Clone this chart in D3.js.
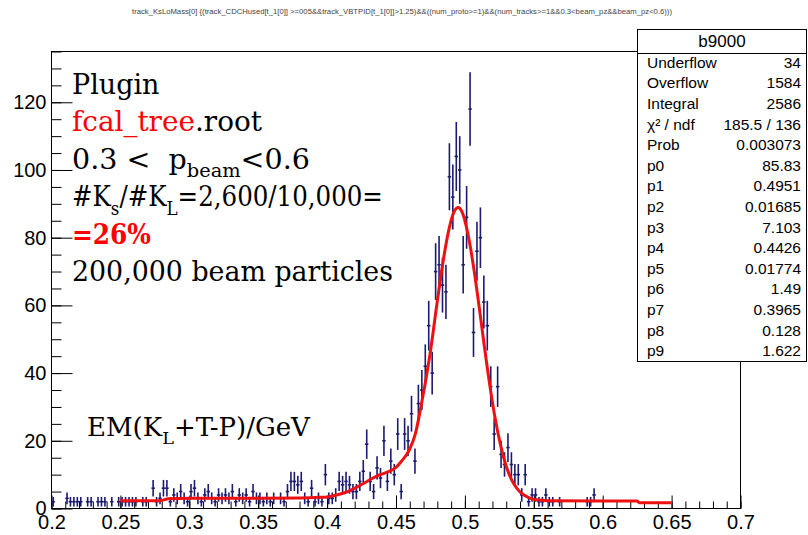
<!DOCTYPE html>
<html>
<head>
<meta charset="utf-8">
<script src="https://cdn.jsdelivr.net/npm/d3@7/dist/d3.min.js"></script>
<style>
  html, body { margin: 0; padding: 0; background: #fff; }
  svg { display: block; }
</style>
</head>
<body>
<svg id="chart" width="808" height="535"></svg>
<script>
// ---- histogram b9000: K mass, 200 bins of 0.0025 from 0.2 to 0.7 ----
const xMin = 0.2, xMax = 0.7, binWidth = 0.0025;
const counts = [
  2,0,0,0,3,2,2,2,2,0,2,2,0,2,2,2,0,2,0,2,          // 0.200 - 0.250
  2,2,2,2,2,0,2,2,0,6,2,3,6,6,2,4,3,5,3,2,          // 0.250 - 0.300
  5,6,3,2,4,5,3,2,4,3,4,3,5,2,4,3,4,2,5,3,          // 0.300 - 0.350
  3,2,3,2,3,0,3,2,5,8,8,7,8,3,2,6,2,3,2,10,         // 0.350 - 0.400
  3,3,4,8,7,8,7,5,5,8,11,19,8,5,12,9,20,8,14,10,    // 0.400 - 0.450
  22,5,22,20,28,14,31,35,42,54,40,70,72,66,64,98,92,104,100,72, // 0.450 - 0.500
  86,118,52,76,80,61,54,36,22,36,16,13,18,13,10,10,4,10,2,4,   // 0.500 - 0.550
  4,2,2,4,2,2,0,2,0,0,0,0,0,0,0,2,2,4,0,0,          // 0.550 - 0.600
  0,0,0,0,0,0,0,0,0,0,0,0,0,0,0,0,0,0,0,0,          // 0.600 - 0.650
  0,0,0,0,0,0,0,0,0,0,0,0,0,0,0,0,0,0,0,0           // 0.650 - 0.700
];

// ---- fitted function (sampled) ----
const fitX = [0.25,0.279,0.285,0.30,0.35,0.38,0.395,0.40,0.408,0.415,0.4205,0.426,0.432,0.438,0.444,
  0.4496,0.4538,0.4593,0.4642,0.4678,0.4744,0.480,0.4838,0.4887,0.4926,0.4951,0.4979,0.5029,0.5065,
  0.5102,0.5138,0.518,0.522,0.526,0.530,0.534,0.538,0.542,0.546,0.550,0.555,0.56,0.60,0.625,0.6265,0.65];
const fitY = [2.3,2.3,2.9,3.0,3.0,3.1,3.3,3.4,4.1,5.0,6.1,7.3,8.7,9.9,10.8,
  12.0,13.9,17.0,22.3,29.4,44.8,61.3,72,83,88,88.9,87.6,79.6,70.8,
  60,48.9,36.6,26.5,18.5,12.5,8.4,5.8,4.2,3.3,2.7,2.45,2.3,2.2,2.2,1.7,1.7];

// ---- axes ----
const yMax = 135;
const xMajorTicks = [0.2,0.25,0.3,0.35,0.4,0.45,0.5,0.55,0.6,0.65,0.7];
const xTickLabels = ["0.2","0.25","0.3","0.35","0.4","0.45","0.5","0.55","0.6","0.65","0.7"];
const yMajorTicks = [0,20,40,60,80,100,120];
const yTickLabels = ["0","20","40","60","80","100","120"];

// ---- statistics box ----
const statTitle = "b9000";
const statNames = ["Underflow","Overflow","Integral","\u03C7\u00B2 / ndf","Prob","p0","p1","p2","p3","p4","p5","p6","p7","p8","p9"];
const statValues = ["34","1584","2586","185.5 / 136","0.003073","85.83","0.4951","0.01685","7.103","0.4426","0.01774","1.49","0.3965","0.128","1.622"];

const histTitle = "track_KsLoMass[0] {(track_CDCHused[t_1[0]] >=005&&track_VBTPID[t_1[0]]>1.25)&&((num_proto>=1)&&(num_tracks>=1&&0.3<beam_pz&&beam_pz<0.6)))";

// annotation lines: segments [text, options]; optional target width
const notes = [
  {segs: [["Plugin", {}]]},
  {segs: [["fcal_tree", {color:"#ff0000"}], [".root", {}]], width: 190},
  {segs: [["0.3 <\u00A0\u00A0p", {}], ["beam", {sub:true}], ["<0.6", {}]], width: 238},
  {segs: [["#K", {}], ["s", {sub:true}], ["/#K", {}], ["L", {sub:true}], ["=2,600/10,000=", {}]], width: 311},
  {segs: [["=26%", {color:"#ff0000", bold:true}]], width: 79},
  {segs: [["200,000 beam particles", {}]], width: 321}
];
const axisNote = {segs: [["EM(K", {}], ["L", {sub:true}], ["+T-P)/GeV", {}]], width: 223};

// ---- layout ----
const svg = d3.select("#chart");
const frame = {left: 51.5, right: 740.5, top: 51.5, bottom: 508.5};
const x = d3.scaleLinear().domain([xMin, xMax]).range([frame.left, frame.right]);
const y = d3.scaleLinear().domain([0, yMax]).range([frame.bottom, frame.top]);

const dataColor = "#1b1b70";
const labelFont = "'Liberation Sans', Arial, sans-serif";

// title
svg.append("text")
  .attr("x", 402).attr("y", 14)
  .attr("text-anchor", "middle")
  .attr("font-family", labelFont).attr("font-size", 7)
  .attr("fill", "#444")
  .attr("textLength", 540).attr("lengthAdjust", "spacingAndGlyphs")
  .text(histTitle);

// axes (ticks drawn inside the frame)
const xMinor = d3.range(0, 51).map(i => xMin + i * 0.01);
const yMinor = d3.range(0, 28).map(i => i * 5);

svg.append("g").attr("transform", `translate(0,${frame.bottom})`)
  .call(d3.axisBottom(x).tickValues(xMinor).tickSize(-7).tickFormat(""))
  .call(g => g.select(".domain").remove());
svg.append("g").attr("transform", `translate(0,${frame.bottom})`)
  .call(d3.axisBottom(x).tickValues(xMajorTicks).tickSize(-13).tickPadding(6)
        .tickFormat((d, i) => xTickLabels[i]))
  .call(g => g.select(".domain").remove())
  .call(g => g.selectAll("text").attr("font-family", labelFont).attr("font-size", 20).attr("fill", "#000"));

svg.append("g").attr("transform", `translate(${frame.left},0)`)
  .call(d3.axisLeft(y).tickValues(yMinor).tickSize(-10).tickFormat(""))
  .call(g => g.select(".domain").remove());
svg.append("g").attr("transform", `translate(${frame.left},0)`)
  .call(d3.axisLeft(y).tickValues(yMajorTicks).tickSize(-21).tickPadding(5)
        .tickFormat((d, i) => yTickLabels[i]))
  .call(g => g.select(".domain").remove())
  .call(g => g.selectAll("text").attr("font-family", labelFont).attr("font-size", 20).attr("fill", "#000"));

svg.selectAll(".tick line").attr("stroke", "#000").attr("stroke-width", 1);

// frame
svg.append("rect")
  .attr("x", frame.left).attr("y", frame.top)
  .attr("width", frame.right - frame.left).attr("height", frame.bottom - frame.top)
  .attr("fill", "none").attr("stroke", "#000").attr("stroke-width", 1);

// histogram points with error bars
const bins = counts.map((c, i) => ({lo: xMin + i * binWidth, hi: xMin + (i + 1) * binWidth, c}))
  .filter(b => b.c > 0);
const pts = svg.append("g").attr("stroke", dataColor).attr("stroke-width", 1.6);
pts.selectAll("line.h").data(bins).join("line").attr("class", "h")
  .attr("x1", d => x(d.lo)).attr("x2", d => x(d.hi))
  .attr("y1", d => y(d.c)).attr("y2", d => y(d.c));
pts.selectAll("line.v").data(bins).join("line").attr("class", "v")
  .attr("x1", d => x((d.lo + d.hi) / 2)).attr("x2", d => x((d.lo + d.hi) / 2))
  .attr("y1", d => y(d.c + Math.sqrt(d.c))).attr("y2", d => y(Math.max(0, d.c - Math.sqrt(d.c))));

// fit curve
const fitLine = d3.line().x(d => x(d[0])).y(d => y(d[1])).curve(d3.curveMonotoneX);
svg.append("path")
  .datum(fitX.map((v, i) => [v, fitY[i]]))
  .attr("d", fitLine)
  .attr("fill", "none").attr("stroke", "#ee1111").attr("stroke-width", 3)
  .attr("stroke-linejoin", "round");

// annotations: each line is laid out naturally, then stretched horizontally to its width
const serif = "'DejaVu Serif', 'Liberation Serif', serif";
function writeLine(line, x0, yBase, size) {
  const segs = line.segs;
  const g = svg.append("g");
  const t = g.append("text").attr("x", x0).attr("y", yBase)
    .attr("font-family", serif).attr("font-size", size).attr("fill", "#000");
  segs.forEach(([s, o], i) => {
    const ts = t.append("tspan").text(s);
    if (o.color) ts.attr("fill", o.color);
    if (o.bold) ts.attr("font-weight", "bold");
    const prev = i > 0 ? segs[i - 1][1] : {};
    if (o.sub) ts.attr("font-size", size * 0.68).attr("dy", size * 0.3);
    else if (prev.sub) ts.attr("dy", -size * 0.3);
  });
  if (line.width) {
    const natural = t.node().getComputedTextLength();
    const k = line.width / natural;
    g.attr("transform", `translate(${x0},0) scale(${k},1) translate(${-x0},0)`);
  }
}
notes.forEach((line, i) => writeLine(line, 72, 94 + i * 37.5, 27));
writeLine(axisNote, 87, 436, 25.5);

// statistics box
const box = {x: 637.5, y: 29.5, w: 169, h: 332};
svg.append("rect").attr("x", box.x).attr("y", box.y).attr("width", box.w).attr("height", box.h)
  .attr("fill", "#fff").attr("stroke", "#000").attr("stroke-width", 1);
svg.append("line").attr("x1", box.x).attr("x2", box.x + box.w).attr("y1", 53.5).attr("y2", 53.5)
  .attr("stroke", "#000");
svg.append("text").attr("x", box.x + box.w / 2).attr("y", 47)
  .attr("text-anchor", "middle").attr("font-family", labelFont).attr("font-size", 17)
  .text(statTitle);
const rows = svg.append("g").attr("font-family", labelFont).attr("font-size", 15.5).attr("fill", "#000");
statNames.forEach((n, i) => {
  const yy = 62.3 + i * 20.6;
  rows.append("text").attr("x", 647).attr("y", yy).attr("dy", "0.36em").text(n);
  rows.append("text").attr("x", 801).attr("y", yy).attr("dy", "0.36em")
    .attr("text-anchor", "end").text(statValues[i]);
});
</script>
</body>
</html>
